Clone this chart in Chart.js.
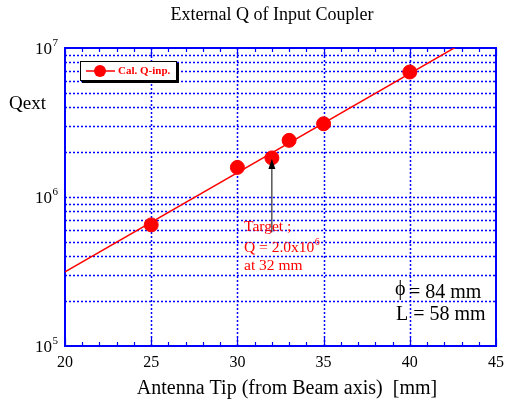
<!DOCTYPE html>
<html>
<head>
<meta charset="utf-8">
<script src="https://cdn.jsdelivr.net/npm/chart.js@4"></script>
<style>
  html, body { margin: 0; padding: 0; background: #fff; }
  #wrap { width: 505px; height: 403px; }
</style>
</head>
<body>
<div id="wrap"><canvas id="qChart" width="505" height="403"></canvas></div>
<script>
// measured points (antenna tip mm -> Qext)
const tipMm = [25, 30, 32, 33, 35, 40];
const qext = [6.5e5, 1.58e6, 1.83e6, 2.4e6, 3.1e6, 6.9e6];
// fitted line, end points
const fitMm = [20, 45];
const fitQ = [3.15e5, 1.45e7];
// axes
const xTicks = [20, 25, 30, 35, 40, 45];
const xMinor = [21, 22, 23, 24, 26, 27, 28, 29, 31, 32, 33, 34, 36, 37, 38, 39, 41, 42, 43, 44];
const yDecades = [1e5, 1e6, 1e7];
const yDecadeExp = ['5', '6', '7'];
const yGrid = [2e5, 3e5, 4e5, 5e5, 6e5, 7e5, 8e5, 9e5, 1e6, 2e6, 3e6, 4e6, 5e6, 6e6, 7e6, 8e6, 9e6];
// target arrow (tail, head)
const arrowMm = [32, 32];
const arrowQ = [5.8e5, 1.8e6];

const SERIF = '"Liberation Serif", "DejaVu Serif", serif';
const BLUE = '#0000ff';
const RED = '#ff0000';

function supText(ctx, base, sup, x, y, size, supSize, align) {
  ctx.font = size + 'px ' + SERIF;
  const w = ctx.measureText(base).width;
  const x0 = align === 'right' ? x - w : x;
  ctx.textAlign = 'left';
  ctx.fillText(base, x0, y);
  ctx.font = supSize + 'px ' + SERIF;
  ctx.fillText(sup, x0 + w + 0.5, y - size * 0.38);
}

const decor = {
  id: 'decor',
  beforeDatasetsDraw(chart) {
    const { ctx, chartArea: a, scales: { x, y } } = chart;
    ctx.save();
    // dotted grid
    ctx.strokeStyle = BLUE;
    ctx.lineWidth = 1.5;
    ctx.setLineDash([2, 2]);
    yGrid.forEach((v) => {
      const py = Math.round(y.getPixelForValue(v)) + 0.5;
      ctx.beginPath(); ctx.moveTo(a.left, py); ctx.lineTo(a.right, py); ctx.stroke();
    });
    xTicks.slice(1, -1).forEach((v) => {
      const px = Math.round(x.getPixelForValue(v)) + 0.5;
      ctx.beginPath(); ctx.moveTo(px, a.top); ctx.lineTo(px, a.bottom); ctx.stroke();
    });
    ctx.setLineDash([]);
    // ticks top and bottom
    ctx.lineWidth = 1.2;
    xMinor.forEach((v) => {
      const px = Math.round(x.getPixelForValue(v)) + 0.5;
      ctx.beginPath(); ctx.moveTo(px, a.bottom); ctx.lineTo(px, a.bottom - 4); ctx.stroke();
      ctx.beginPath(); ctx.moveTo(px, a.top); ctx.lineTo(px, a.top + 4); ctx.stroke();
    });
    xTicks.forEach((v) => {
      const px = Math.round(x.getPixelForValue(v)) + 0.5;
      ctx.beginPath(); ctx.moveTo(px, a.bottom); ctx.lineTo(px, a.bottom - 8); ctx.stroke();
      ctx.beginPath(); ctx.moveTo(px, a.top); ctx.lineTo(px, a.top + 8); ctx.stroke();
    });
    // frame
    ctx.lineWidth = 2;
    ctx.strokeRect(a.left, a.top, a.right - a.left, a.bottom - a.top);

    // tick labels
    ctx.fillStyle = '#000';
    ctx.font = '16px ' + SERIF;
    ctx.textAlign = 'center';
    ctx.textBaseline = 'middle';
    xTicks.forEach((v) => ctx.fillText(String(v), x.getPixelForValue(v), a.bottom + 17));
    yDecades.forEach((v, i) => {
      supText(ctx, '10', yDecadeExp[i], 52, y.getPixelForValue(v) + 2, 17, 11, 'right');
    });

    // titles
    ctx.textAlign = 'center';
    ctx.font = '18px ' + SERIF;
    ctx.fillText('External Q of Input Coupler', 272, 15);
    ctx.font = '20px ' + SERIF;
    ctx.fillText('Antenna Tip (from Beam axis)  [mm]', 287, 389);
    ctx.textAlign = 'left';
    ctx.font = '19px ' + SERIF;
    ctx.fillText('Qext', 9, 104);

    // legend box
    ctx.fillStyle = '#000';
    ctx.fillRect(82, 63, 97, 20);
    ctx.fillStyle = '#fff';
    ctx.fillRect(80, 61, 96, 19);
    ctx.strokeStyle = '#000';
    ctx.lineWidth = 1;
    ctx.strokeRect(80.5, 61.5, 96, 19);
    ctx.strokeStyle = RED;
    ctx.lineWidth = 1.5;
    ctx.beginPath(); ctx.moveTo(86, 71); ctx.lineTo(115, 71); ctx.stroke();
    ctx.fillStyle = RED;
    ctx.beginPath(); ctx.arc(100, 71, 6, 0, Math.PI * 2); ctx.fill();
    ctx.font = 'bold 11px ' + SERIF;
    ctx.fillText('Cal. Q-inp.', 118, 71);

    // target annotation
    ctx.font = '15.5px ' + SERIF;
    ctx.fillText('Target ;', 244, 227);
    supText(ctx, 'Q = 2.0x10', '6', 244, 248, 15.5, 10, 'left');
    ctx.font = '15.5px ' + SERIF;
    ctx.fillText('at 32 mm', 244, 266);

    // phi / L
    ctx.fillStyle = '#000';
    ctx.font = '20px ' + SERIF;
    ctx.fillText('\u03d5', 395, 290);
    ctx.fillText('= 84 mm', 409, 293);
    ctx.fillText('L = 58 mm', 396, 315);
    ctx.restore();
  },
  afterDatasetsDraw(chart) {
    const { ctx, scales: { x, y } } = chart;
    const tx = x.getPixelForValue(arrowMm[0]), ty = y.getPixelForValue(arrowQ[0]);
    const hx = x.getPixelForValue(arrowMm[1]), hy = y.getPixelForValue(arrowQ[1]);
    ctx.save();
    ctx.strokeStyle = '#000';
    ctx.fillStyle = '#000';
    ctx.lineWidth = 1;
    ctx.beginPath(); ctx.moveTo(tx, ty); ctx.lineTo(hx, hy + 8); ctx.stroke();
    ctx.beginPath(); ctx.moveTo(hx, hy); ctx.lineTo(hx - 3.5, hy + 10); ctx.lineTo(hx + 3.5, hy + 10); ctx.closePath(); ctx.fill();
    ctx.restore();
  }
};

new Chart(document.getElementById('qChart'), {
  type: 'scatter',
  data: {
    datasets: [
      {
        label: 'fit',
        data: fitMm.map((m, i) => ({ x: m, y: fitQ[i] })),
        showLine: true,
        borderColor: RED,
        borderWidth: 1.5,
        pointRadius: 0,
        order: 2,
      },
      {
        label: 'Cal. Q-inp.',
        data: tipMm.map((m, i) => ({ x: m, y: qext[i] })),
        backgroundColor: RED,
        borderColor: RED,
        pointRadius: 7,
        pointHoverRadius: 7,
        order: 1,
      },
    ],
  },
  options: {
    responsive: false,
    animation: false,
    events: [],
    layout: { padding: { left: 65, top: 48, right: 9, bottom: 57 } },
    scales: {
      x: { type: 'linear', min: 20, max: 45, display: false },
      y: { type: 'logarithmic', min: 1e5, max: 1e7, display: false },
    },
    plugins: { legend: { display: false }, tooltip: { enabled: false } },
  },
  plugins: [decor],
});
</script>
</body>
</html>
